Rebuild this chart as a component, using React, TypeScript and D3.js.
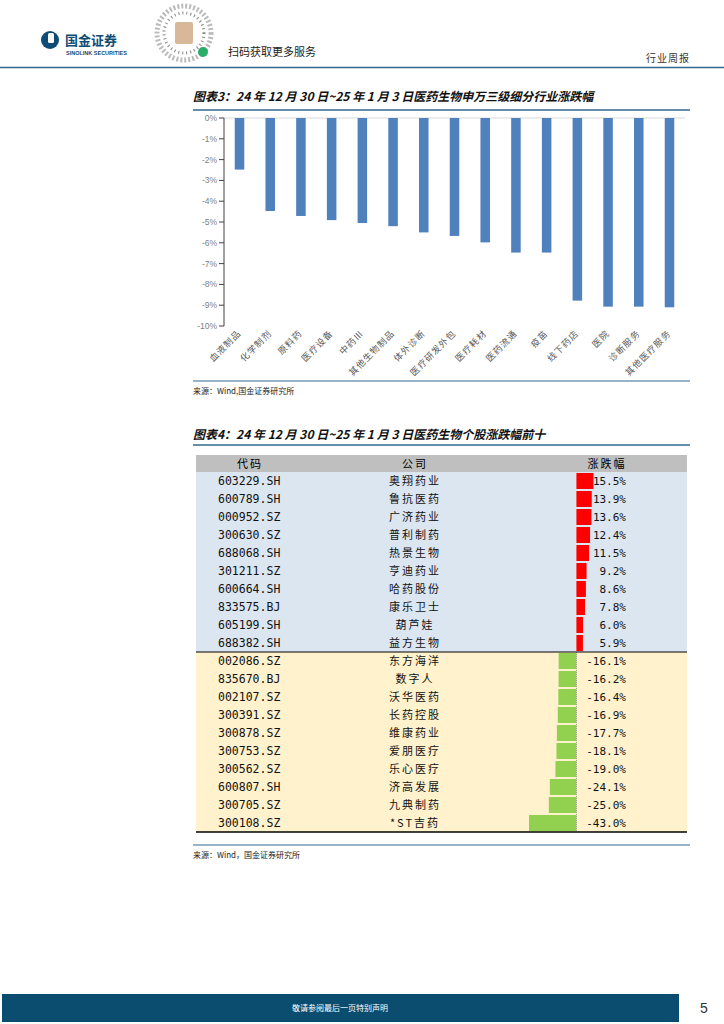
import * as d3 from 'd3'

const industries = ['血液制品', '化学制剂', '原料药', '医疗设备', '中药Ⅲ', '其他生物制品', '体外诊断', '医疗研发外包', '医疗耗材', '医药流通', '疫苗', '线下药店', '医院', '诊断服务', '其他医疗服务']
const industryChg = [-2.48, -4.47, -4.71, -4.91, -5.05, -5.2, -5.5, -5.67, -5.98, -6.47, -6.47, -8.78, -9.07, -9.07, -9.1]
const yTicks = [0, -1, -2, -3, -4, -5, -6, -7, -8, -9, -10]

const codes = ['603229.SH', '600789.SH', '000952.SZ', '300630.SZ', '688068.SH', '301211.SZ', '600664.SH', '833575.BJ', '605199.SH', '688382.SH',
  '002086.SZ', '835670.BJ', '002107.SZ', '300391.SZ', '300878.SZ', '300753.SZ', '300562.SZ', '600807.SH', '300705.SZ', '300108.SZ']
const companies = ['奥翔药业', '鲁抗医药', '广济药业', '普利制药', '热景生物', '亨迪药业', '哈药股份', '康乐卫士', '葫芦娃', '益方生物',
  '东方海洋', '数字人', '沃华医药', '长药控股', '维康药业', '爱朋医疗', '乐心医疗', '济高发展', '九典制药', '*ST吉药']
const stockChg = [15.5, 13.9, 13.6, 12.4, 11.5, 9.2, 8.6, 7.8, 6.0, 5.9,
  -16.1, -16.2, -16.4, -16.9, -17.7, -18.1, -19.0, -24.1, -25.0, -43.0]

const BLUE = '#2e6a8e'
const CJK = '"Noto Sans CJK SC", sans-serif'
const MONO = '"DejaVu Sans Mono", monospace'

function BarChart() {
  const x = d3.scaleBand<string>().domain(industries).range([224, 685]).paddingInner(0.69).paddingOuter(0.35)
  const y = d3.scaleLinear().domain([-10, 0]).range([326, 118])
  return (
    <g>
      <line x1={224} x2={685} y1={y(0)} y2={y(0)} stroke="#d9d9d9" />
      {industries.map((c, i) => (
        <rect key={c} x={x(c)} y={y(0)} width={x.bandwidth()} height={y(industryChg[i]) - y(0)} fill="#4f81bd" />
      ))}
      <line x1={224} x2={224} y1={y(0)} y2={y(-10)} stroke="#404040" strokeWidth={1} />
      {yTicks.map(t => (
        <g key={t}>
          <line x1={219} x2={224} y1={y(t)} y2={y(t)} stroke="#404040" />
          <text x={217} y={y(t)} dy="0.35em" textAnchor="end" fontSize={8.5} fill="#7f7f7f" fontFamily="Arial, sans-serif">{`${t}%`}</text>
        </g>
      ))}
      {industries.map(c => {
        const cx = (x(c) ?? 0) + x.bandwidth() / 2
        return (
          <text key={c} transform={`translate(${cx + 2},${334}) rotate(-45)`} textAnchor="end" fontSize={9} fill="#595959" fontFamily={CJK} letterSpacing={1}>{c}</text>
        )
      })}
    </g>
  )
}

function StockTable() {
  const top = 472
  const rowH = 18
  const left = 196
  const right = 687
  const xb = d3.scaleLinear().domain([-43, 15.5]).range([529, 593.5])
  const rows = d3.range(codes.length)
  return (
    <g>
      <rect x={left} y={455} width={right - left} height={top - 455} fill="#bfbfbf" />
      <text x={250} y={464} dy="0.35em" textAnchor="middle" fontSize={11} fontFamily={CJK} letterSpacing={2}>代码</text>
      <text x={415} y={464} dy="0.35em" textAnchor="middle" fontSize={11} fontFamily={CJK} letterSpacing={2}>公司</text>
      <text x={607} y={464} dy="0.35em" textAnchor="middle" fontSize={11} fontFamily={CJK} letterSpacing={2}>涨跌幅</text>
      {rows.map(i => {
        const ry = top + i * rowH
        const v = stockChg[i]
        return (
          <g key={codes[i]}>
            <rect x={left} y={ry} width={right - left} height={rowH} fill={v >= 0 ? '#dce6f1' : '#fff2cc'} />
            <rect x={v >= 0 ? xb(0) : xb(v)} y={ry + 1} width={Math.abs(xb(v) - xb(0))} height={rowH - 2}
              fill={v >= 0 ? '#ff0000' : '#92d050'} />
            <text x={218} y={ry + rowH / 2} dy="0.36em" fontSize={11.5} fontFamily={MONO} fill="#111">{codes[i]}</text>
            <text x={415} y={ry + rowH / 2} dy="0.36em" textAnchor="middle" fontSize={11} fontFamily={CJK} letterSpacing={2} fill="#111">{companies[i]}</text>
            <text x={626} y={ry + rowH / 2} dy="0.36em" textAnchor="end" fontSize={11} fontFamily={MONO} fill="#111">{`${v.toFixed(1)}%`}</text>
          </g>
        )
      })}
      <line x1={xb(0)} x2={xb(0)} y1={top + 10 * rowH} y2={top + 20 * rowH} stroke="#999" strokeDasharray="1,1" />
      <line x1={left} x2={right} y1={top + 10 * rowH} y2={top + 10 * rowH} stroke="#000" strokeWidth={1} />
      <line x1={left} x2={right} y1={top + 20 * rowH} y2={top + 20 * rowH} stroke="#000" strokeWidth={1.5} />
    </g>
  )
}

function Header() {
  return (
    <g>
      <circle cx={50} cy={40} r={9} fill="#0f4c75" />
      <rect x={48} y={33} width={6} height={10} rx={1.5} fill="#fff" />
      <text x={65} y={45} fontSize={13} fontWeight="bold" fill="#0f4c75" fontFamily={CJK}>国金证券</text>
      <text x={66} y={55} fontSize={5.5} fontWeight="bold" fill="#0f4c75" fontFamily="Arial, sans-serif">SINOLINK SECURITIES</text>
      <circle cx={184} cy={33} r={27} fill="#fff" stroke="#bbb" strokeWidth={5} strokeDasharray="2,2" />
      <circle cx={184} cy={33} r={20} fill="#fff" stroke="#888" strokeWidth={3} strokeDasharray="1,3" />
      <rect x={175} y={22} width={18} height={22} rx={2} fill="#d9b89a" />
      <circle cx={203} cy={52} r={5} fill="#2aae67" />
      <text x={228} y={56} fontSize={11} fill="#222" fontFamily={CJK}>扫码获取更多服务</text>
      <text x={690} y={62} fontSize={10} textAnchor="end" fill="#333" fontFamily={CJK} letterSpacing={1}>行业周报</text>
      <line x1={0} x2={724} y1={67.5} y2={67.5} stroke={BLUE} strokeWidth={1.5} />
    </g>
  )
}

export default function App() {
  return (
    <svg width={724} height={1024} style={{ position: 'absolute', left: 0, top: 0, background: '#fff' }}>
      <Header />
      <text x={193} y={101} fontSize={12} fontWeight="bold" fontStyle="italic" fill="#111" fontFamily={CJK}>
        图表3：24 年 12 月 30 日~25 年 1 月 3 日医药生物申万三级细分行业涨跌幅
      </text>
      <line x1={193} x2={690} y1={110} y2={110} stroke={BLUE} strokeWidth={1.5} />
      <BarChart />
      <line x1={193} x2={690} y1={381} y2={381} stroke={BLUE} strokeWidth={1} />
      <text x={193} y={394} fontSize={8} fill="#222" fontFamily={CJK}>来源：Wind,国金证券研究所</text>

      <text x={193} y={439} fontSize={12} fontWeight="bold" fontStyle="italic" fill="#111" fontFamily={CJK}>
        图表4：24 年 12 月 30 日~25 年 1 月 3 日医药生物个股涨跌幅前十
      </text>
      <line x1={193} x2={690} y1={445} y2={445} stroke={BLUE} strokeWidth={1.5} />
      <StockTable />
      <line x1={193} x2={690} y1={845} y2={845} stroke={BLUE} strokeWidth={1} />
      <text x={193} y={858} fontSize={8} fill="#222" fontFamily={CJK}>来源：Wind，国金证券研究所</text>

      <rect x={2} y={994} width={677} height={28} fill="#0b4d6e" />
      <text x={340} y={1008} dy="0.35em" textAnchor="middle" fontSize={8} fill="#fff" fontFamily={CJK}>敬请参阅最后一页特别声明</text>
      <text x={704} y={1008} dy="0.35em" textAnchor="middle" fontSize={14} fill="#333" fontFamily="Arial, sans-serif">5</text>
    </svg>
  )
}
